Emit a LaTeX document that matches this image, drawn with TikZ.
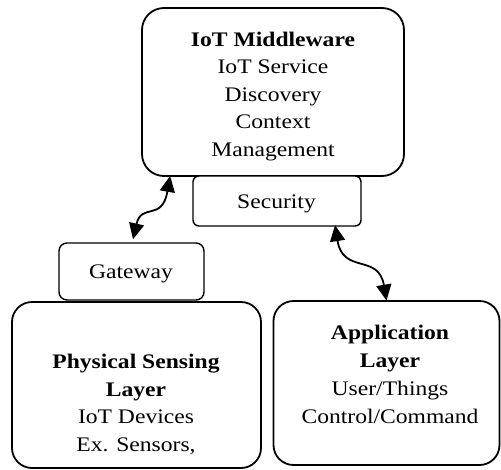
\documentclass[tikz,border=0pt]{standalone}
\usepackage{fontspec}
\setmainfont{Liberation Serif}
\usetikzlibrary{arrows.meta,calc}
\newcommand{\wx}[1]{\scalebox{1.14}[1]{#1}}
\begin{document}
\begin{tikzpicture}[x=1pt,y=-1pt,
  bigbox/.style={draw=black,fill=white,line width=1.8pt,rounded corners=22pt,inner sep=0pt},
  smallbox/.style={draw=black,fill=white,line width=1.4pt,rounded corners=7pt,inner sep=0pt},
  txt/.style={anchor=base,inner sep=0pt,font=\fontsize{20.7}{27}\selectfont},
  btxt/.style={txt,font=\fontsize{20.7}{27}\selectfont\bfseries},
  conn/.style={line width=1.8pt,{Triangle[length=16pt,width=15pt]}-{Triangle[length=16pt,width=15pt]}}
]
\useasboundingbox (0,0) rectangle (501,469);
% IoT Middleware
\node[bigbox,minimum width=262pt,minimum height=168pt] (mw) at (273,92) {};
\begin{scope}
\clip (142,8) rectangle (404,160);
\node[btxt] (mw1) at (273,46.5) {\wx{IoT Middleware}};
\node[txt] (mw2) at (273,73.5) {\wx{IoT Service}};
\node[txt] (mw3) at (273,101) {\wx{Discovery}};
\node[txt] (mw4) at (273,128.5) {\wx{Context}};
\node[txt] (mw5) at (273,156) {\wx{Management}};
\end{scope}
% Security
\node[smallbox,rounded corners=6pt,minimum width=168pt,minimum height=50pt] (sec) at (277,201) {};
\node[txt] (sect) at (276.5,208) {\wx{Security}};
% Physical sensing layer
\node[bigbox,rounded corners=20pt,minimum width=249pt,minimum height=166pt] (phy) at (136.5,385) {};
\node[btxt] (phy1) at (136,368.5) {\wx{Physical Sensing}};
\node[btxt] (phy2) at (136,396) {\wx{Layer}};
\node[txt] (phy3) at (136,423.5) {\wx{IoT Devices}};
\node[txt] (phy4) at (136,451) {\wx{Ex. Sensors,}};
% Gateway
\node[smallbox,rounded corners=8pt,minimum width=145pt,minimum height=57pt] (gw) at (131.5,271.5) {};
\node[txt] (gwt) at (131,278.5) {\wx{Gateway}};
% Application layer
\node[bigbox,rounded corners=20pt,minimum width=226pt,minimum height=164pt] (app) at (386.5,383) {};
\node[btxt] (app1) at (390,339.5) {\wx{Application}};
\node[btxt] (app2) at (390,367) {\wx{Layer}};
\node[txt] (app3) at (390,395.5) {\wx{User/Things}};
\node[txt] (app4) at (390,423) {\wx{Control/Command}};
% connectors
\draw[conn] ([xshift=29pt,yshift=1pt]mw.south west) .. controls ($([xshift=29pt]mw.south west)+(-8,45)$) and ($(gw.north)+(10,-40)$) .. ([xshift=1.5pt,yshift=3pt]gw.north);
\draw[conn] ([xshift=58pt,yshift=1.5pt]sec.south) .. controls ($(sec.south)+(66,48)$) and ($(app.north)+(-8,-47)$) .. ([yshift=-0.5pt]app.north);
\end{tikzpicture}
\end{document}
